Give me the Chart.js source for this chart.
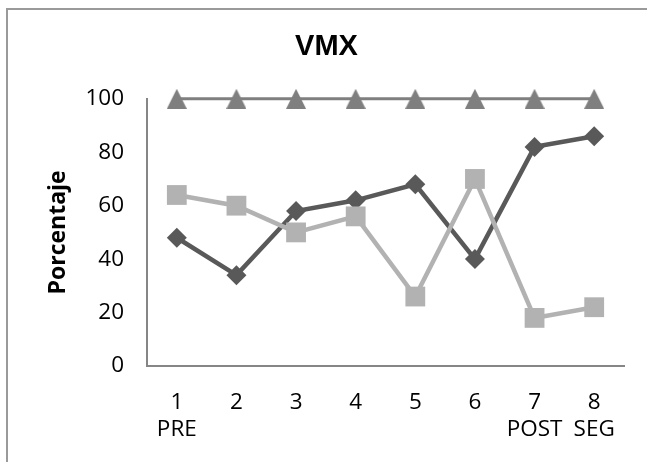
<!DOCTYPE html>
<html>
<head>
<meta charset="utf-8">
<script src="https://cdn.jsdelivr.net/npm/chart.js@4"></script>
<style>
  html, body { margin: 0; padding: 0; background: #fff; }
  #c { display: block; }
</style>
</head>
<body>
<canvas id="c" width="647" height="462"></canvas>
<script>
const categories = ['1', '2', '3', '4', '5', '6', '7', '8'];
const subLabels = ['PRE', '', '', '', '', '', 'POST', 'SEG'];
const seriesDiamond = [48, 34, 58, 62, 68, 40, 82, 86];
const seriesSquare = [64, 60, 50, 56, 26, 70, 18, 22];
const seriesTriangle = [100, 100, 100, 100, 100, 100, 100, 100];
const yTicks = [0, 20, 40, 60, 80, 100];
const chartTitle = 'VMX';
const yTitle = 'Porcentaje';

const labels = categories.map((c, i) => [c, subLabels[i]]);

// triangle marker image
function triangleImg(color) {
  const cv = document.createElement('canvas');
  cv.width = 20; cv.height = 20;
  const g = cv.getContext('2d');
  g.fillStyle = color;
  g.beginPath();
  g.moveTo(10, 0); g.lineTo(20, 20); g.lineTo(0, 20); g.closePath();
  g.fill();
  return cv;
}

const borderPlugin = {
  id: 'outerBorder',
  beforeDraw(chart) {
    const ctx = chart.ctx;
    ctx.save();
    ctx.fillStyle = '#fff';
    ctx.fillRect(0, 0, chart.width, chart.height);
    ctx.strokeStyle = '#9a9a9a';
    ctx.lineWidth = 2;
    ctx.beginPath();
    ctx.moveTo(7, chart.height);
    ctx.lineTo(7, 9);
    ctx.lineTo(chart.width, 9);
    ctx.stroke();
    ctx.restore();
  }
};

const tickFont = { family: "'Open Sans', sans-serif", size: 22.5 };

new Chart(document.getElementById('c'), {
  type: 'line',
  data: {
    labels: labels,
    datasets: [
      {
        label: 'Serie 1',
        data: seriesDiamond,
        borderColor: '#595959',
        backgroundColor: '#595959',
        borderWidth: 4.5,
        pointStyle: 'rectRot',
        pointRadius: 10,
        pointHoverRadius: 10,
        pointBorderWidth: 0,
        tension: 0,
        clip: false,
        order: 2
      },
      {
        label: 'Serie 2',
        data: seriesSquare,
        borderColor: '#b2b2b2',
        backgroundColor: '#b2b2b2',
        borderWidth: 4.5,
        pointStyle: 'rect',
        pointRadius: 14,
        pointHoverRadius: 14,
        pointBorderWidth: 0,
        tension: 0,
        clip: false,
        order: 1
      },
      {
        label: 'Serie 3',
        data: seriesTriangle,
        borderColor: '#7f7f7f',
        backgroundColor: '#7f7f7f',
        borderWidth: 3,
        pointStyle: triangleImg('#7f7f7f'),
        pointRadius: 10,
        pointHoverRadius: 10,
        tension: 0,
        clip: false,
        order: 3
      }
    ]
  },
  options: {
    responsive: false,
    animation: false,
    layout: { padding: { left: 29, right: 23, top: 10, bottom: 0 } },
    plugins: {
      legend: { display: false },
      tooltip: { enabled: false },
      title: {
        display: true,
        text: chartTitle,
        color: '#000',
        font: { family: "'Liberation Sans', Arial, sans-serif", size: 29, weight: 'bold' },
        padding: { top: 20, bottom: 34 }
      }
    },
    scales: {
      x: {
        offset: true,
        grid: { display: false, drawTicks: false },
        border: { display: true, color: '#868686', width: 2 },
        ticks: {
          color: '#000',
          font: tickFont,
          padding: 23,
          maxRotation: 0,
          autoSkip: false
        },
        afterFit(scale) { scale.height = 96; }
      },
      y: {
        min: 0,
        max: 100,
        grid: { display: false, drawTicks: false },
        border: { display: true, color: '#868686', width: 2 },
        afterBuildTicks(scale) { scale.ticks = yTicks.map(v => ({ value: v })); },
        ticks: {
          color: '#000',
          font: tickFont,
          padding: 23
        },
        title: {
          display: true,
          text: yTitle,
          color: '#000',
          font: { family: "'Open Sans', sans-serif", size: 23, weight: 'bold' },
          padding: { top: 16, bottom: 0 }
        },
        afterFit(scale) { scale.width = 118; }
      }
    }
  },
  plugins: [borderPlugin]
});
</script>
</body>
</html>
